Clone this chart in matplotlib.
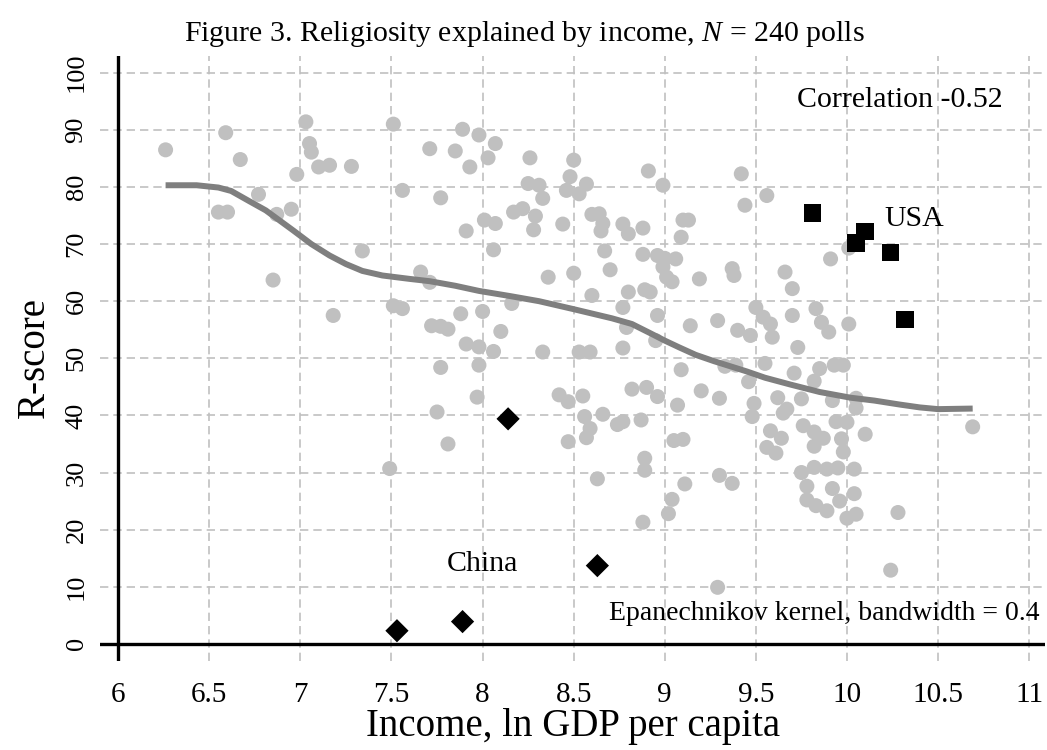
import matplotlib
matplotlib.use('Agg')
import matplotlib.pyplot as plt

plt.rcParams['font.family'] = ['Liberation Serif', 'DejaVu Serif']
plt.rcParams['mathtext.fontset'] = 'custom'
plt.rcParams['mathtext.rm'] = 'Liberation Serif'
plt.rcParams['mathtext.it'] = 'Liberation Serif:italic'

# ---- data ----
poll_income = [
    6.26, 6.59, 6.67, 7.03, 7.05, 7.06, 7.10, 7.16, 7.28, 6.98, 6.77, 6.55, 6.60, 6.87, 6.95, 7.34, 6.85, 7.18,
    7.51, 7.56, 7.71, 7.85, 7.89, 7.98, 8.07, 8.03, 7.93, 7.77, 8.26, 8.50, 8.48, 8.46, 8.57, 8.53, 8.25, 8.31,
    8.33, 8.91, 8.99, 8.17, 8.22, 8.29, 8.28, 8.44, 8.01, 8.07, 7.91, 8.06, 8.60, 8.64, 8.66, 8.65, 8.77, 8.80,
    8.88, 8.67, 8.88, 8.96, 8.99, 8.70, 8.50, 8.36, 7.66, 7.71, 8.60, 8.80, 8.89, 8.92, 8.77, 8.79, 8.96, 8.95,
    8.16, 7.51, 7.56, 7.88, 8.00, 7.72, 7.77, 7.81, 8.10, 7.91, 7.98, 8.06, 8.33, 8.53, 8.59, 8.77,
    9.42, 9.56, 9.44, 9.10, 9.13, 9.09, 9.91, 10.01, 9.00, 9.06, 9.01, 9.04, 9.19, 9.37, 9.38, 9.66, 9.70, 9.50,
    9.54, 9.58, 9.70, 9.83, 9.86, 9.90, 10.01, 9.29, 9.14, 9.40, 9.47, 9.59, 9.73,
    7.77, 7.98, 7.75, 7.97, 7.81, 7.49, 8.42, 8.47, 8.55, 8.56, 8.59, 8.57, 8.47, 8.66, 8.77, 8.74, 8.87, 8.82,
    8.90, 8.96, 8.89, 8.89, 8.63, 8.88,
    9.09, 9.33, 9.39, 9.55, 9.20, 9.30, 9.07, 9.05, 9.10, 9.11, 9.04, 9.02, 9.30, 9.37, 9.46, 9.49, 9.48, 9.71,
    9.85, 9.93, 9.98, 9.82, 9.62, 9.67, 9.75, 9.65, 9.92, 10.05, 10.05, 9.58, 9.64, 9.56, 9.61, 9.76, 9.82, 9.82,
    9.87, 9.94, 10.00, 9.97, 9.98, 10.10, 9.75, 9.82, 9.89, 9.95, 10.04, 9.78, 9.92, 10.04, 9.78, 9.83, 9.89, 9.96,
    10.00, 10.05, 10.28, 10.24, 9.29, 10.69,
]
poll_rscore = [
    86.5, 89.5, 84.8, 91.4, 87.6, 86.1, 83.5, 83.8, 83.6, 82.2, 78.7, 75.6, 75.6, 75.2, 76.1, 68.8, 63.7, 57.5,
    91.0, 79.4, 86.7, 86.3, 90.1, 89.1, 87.6, 85.1, 83.5, 78.1, 85.1, 84.7, 81.8, 79.4, 80.5, 78.8, 80.6, 80.3,
    78.0, 82.8, 80.3, 75.6, 76.2, 74.9, 72.5, 73.5, 74.2, 73.6, 72.3, 69.0, 75.2, 75.3, 73.6, 72.3, 73.5, 71.8,
    72.8, 68.8, 68.2, 68.0, 66.0, 65.5, 64.9, 64.2, 65.1, 63.3, 61.0, 61.6, 62.0, 61.6, 58.9, 55.4, 57.5, 53.1,
    59.6, 59.2, 58.7, 57.8, 58.2, 55.7, 55.6, 55.1, 54.7, 52.5, 52.0, 51.2, 51.1, 51.1, 51.1, 51.8,
    82.3, 78.5, 76.8, 74.2, 74.2, 71.2, 67.4, 69.3, 67.5, 67.4, 64.2, 63.4, 63.9, 65.7, 64.5, 65.1, 62.2, 58.9,
    57.2, 56.0, 57.5, 58.7, 56.3, 54.6, 56.0, 56.6, 55.7, 54.9, 54.0, 53.7, 51.9,
    48.4, 48.8, 40.6, 43.2, 35.0, 30.7, 43.6, 42.4, 43.4, 39.8, 37.7, 36.1, 35.4, 40.2, 38.9, 38.4, 39.2, 44.6,
    44.9, 43.3, 32.5, 30.4, 28.9, 21.3,
    48.0, 48.6, 48.8, 49.1, 44.3, 43.0, 41.8, 35.6, 35.8, 28.0, 25.3, 22.8, 29.5, 28.1, 45.9, 42.1, 39.8, 47.4,
    48.2, 48.8, 48.8, 46.0, 43.1, 41.1, 42.9, 40.4, 42.6, 43.0, 41.3, 37.3, 36.0, 34.4, 33.4, 38.2, 37.1, 34.6,
    36.0, 38.9, 38.8, 35.9, 33.6, 36.7, 30.0, 30.9, 30.6, 30.8, 30.6, 27.6, 27.2, 26.3, 25.2, 24.2, 23.3, 25.0,
    22.0, 22.7, 23.0, 12.9, 9.9, 38.0,
]
usa_income = [9.81, 10.05, 10.10, 10.24, 10.32]
usa_rscore = [75.4, 70.2, 72.2, 68.5, 56.8]
china_income = [7.53, 7.89, 8.14, 8.63]
china_rscore = [2.3, 3.9, 39.4, 13.7]
kernel_income = [6.26, 6.43, 6.55, 6.62, 6.72, 6.81, 6.96, 7.06, 7.16, 7.25, 7.34, 7.45, 7.60, 7.71, 7.85,
                 7.98, 8.15, 8.31, 8.50, 8.71, 8.82, 8.92, 9.00, 9.08, 9.17, 9.27, 9.45, 9.55, 9.69, 9.85,
                 10.02, 10.15, 10.29, 10.40, 10.50, 10.69]
kernel_rscore = [80.3, 80.3, 79.9, 79.3, 77.5, 75.9, 72.4, 70.0, 68.0, 66.5, 65.3, 64.5, 63.9, 63.5, 62.7,
                 61.8, 60.9, 60.0, 58.6, 57.0, 56.0, 54.4, 53.1, 51.9, 50.6, 49.5, 47.7, 46.6, 45.4, 44.1,
                 43.1, 42.6, 41.9, 41.4, 41.1, 41.2]
x_ticks = [6, 6.5, 7, 7.5, 8, 8.5, 9, 9.5, 10, 10.5, 11]
x_tick_labels = ['6', '6.5', '7', '7.5', '8', '8.5', '9', '9.5', '10', '10.5', '11']
y_ticks = [0, 10, 20, 30, 40, 50, 60, 70, 80, 90, 100]
y_tick_labels = [str(v) for v in y_ticks]

# ---- figure ----
W, H = 1047, 750
fig = plt.figure(figsize=(W / 100, H / 100), dpi=100)
ax = fig.add_axes([100 / W, 1 - 661 / H, 945 / W, (661 - 55.6) / H])
ax.set_xlim(5.9, 11.087)
ax.set_ylim(-3, 103)
for s in ax.spines.values():
    s.set_visible(False)

ax.set_xticks(x_ticks)
ax.set_xticklabels(x_tick_labels, fontsize=21)
ax.set_yticks(y_ticks)
ax.set_yticklabels(y_tick_labels, fontsize=19, rotation=90, va='center')
ax.tick_params(axis='both', length=0)
ax.tick_params(axis='x', pad=15)
ax.tick_params(axis='y', pad=9)
ax.grid(True, color='#c0c0c0', linestyle=(0, (5, 3)), linewidth=1.2)
ax.set_axisbelow(True)

ax.axvline(6, color='black', lw=2.4, zorder=2.5)
ax.axhline(0, color='black', lw=2.4, zorder=2.5)

ax.scatter(poll_income, poll_rscore, s=117, color='#c0c0c0', edgecolors='none', zorder=2)
ax.plot(kernel_income, kernel_rscore, color='#7f7f7f', lw=4.3, solid_capstyle='butt', zorder=3)
ax.scatter(usa_income, usa_rscore, s=160, marker='s', color='black', edgecolors='none', zorder=4)
ax.scatter(china_income, china_rscore, s=140, marker='D', color='black', edgecolors='none', zorder=4)

ax.text(10.29, 95.3, 'Correlation -0.52', fontsize=21.5, ha='center', va='center')
ax.text(10.37, 74.4, 'USA', fontsize=21.5, ha='center', va='center')
ax.text(8.0, 14.0, 'China', fontsize=21.5, ha='center', va='center')
ax.text(11.055, 5.3, 'Epanechnikov kernel, bandwidth = 0.4', fontsize=20, ha='right', va='center')

fig.text(0.501, 0.955, 'Figure 3. Religiosity explained by income, $\\mathit{N}$ = 240 polls',
         fontsize=21.5, ha='center', va='center')
fig.text(0.547, 0.031, 'Income, ln GDP per capita', fontsize=28, ha='center', va='center')
fig.text(0.033, 0.524, 'R-score', fontsize=28, ha='center', va='center', rotation=90)

fig.savefig('out.png', dpi=100)
